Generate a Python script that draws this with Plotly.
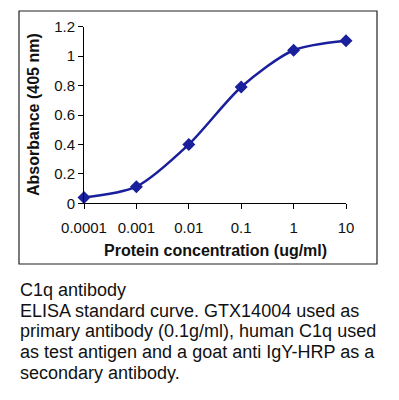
import plotly.graph_objects as go

concentration = [0.0001, 0.001, 0.01, 0.1, 1, 10]
absorbance = [0.04, 0.113, 0.40, 0.79, 1.04, 1.105]
x_tick_vals = [0.0001, 0.001, 0.01, 0.1, 1, 10]
x_tick_text = ["0.0001", "0.001", "0.01", "0.1", "1", "10"]
y_tick_vals = [0, 0.2, 0.4, 0.6, 0.8, 1, 1.2]
y_tick_text = ["0", "0.2", "0.4", "0.6", "0.8", "1", "1.2"]

W, H = 399, 400
OX, OY = 8, 8  # page body margin offset
color = "#1a1f9c"
font = "Liberation Sans, Arial, sans-serif"
txt = "#111111"


def px(x):
    return (x - OX) / W


def py(y):
    return 1 - (y - OY) / H


fig = go.Figure()
fig.add_trace(go.Scatter(
    x=concentration, y=absorbance, mode="lines+markers",
    line=dict(color=color, width=2.5, shape="spline", smoothing=0.8),
    marker=dict(symbol="diamond", size=10, color=color),
    showlegend=False, cliponaxis=False,
))

fig.update_layout(
    template="none",
    width=W, height=H, margin=dict(l=0, r=0, t=0, b=0, pad=0, autoexpand=False),
    paper_bgcolor="white", plot_bgcolor="white",
    font=dict(family=font, color=txt),
    showlegend=False,
    xaxis=dict(
        type="log", range=[-4, 1], domain=[px(84), px(346)],
        tickvals=x_tick_vals, ticktext=x_tick_text,
        showgrid=False, zeroline=False, showline=True, linecolor="black", linewidth=1,
        ticks="outside", ticklen=5, tickcolor="black", automargin=False,
        ticklabelstandoff=6,
        tickfont=dict(size=15, family=font, color=txt),
        anchor="y",
    ),
    yaxis=dict(
        range=[0, 1.2], domain=[py(203.3), py(26.7)],
        tickvals=y_tick_vals, ticktext=y_tick_text,
        showgrid=False, zeroline=False, showline=True, linecolor="black", linewidth=1,
        ticks="outside", ticklen=5, tickcolor="black", automargin=False,
        tickfont=dict(size=15, family=font, color=txt),
        anchor="x",
    ),
)

# Axis titles
fig.add_annotation(text="<b>Absorbance (405 nm)</b>", x=px(33), y=py(115),
                   xref="paper", yref="paper", showarrow=False, textangle=-90,
                   xanchor="center", yanchor="middle",
                   font=dict(size=16, family=font, color=txt))
fig.add_annotation(text="<b>Protein concentration (ug/ml)</b>", x=px(215), y=py(250),
                   xref="paper", yref="paper", showarrow=False,
                   xanchor="center", yanchor="middle",
                   font=dict(size=16, family=font, color=txt))

# Outer frame
fig.add_shape(type="rect", xref="paper", yref="paper",
              x0=px(19), x1=px(377), y0=py(264), y1=py(11),
              line=dict(color="#222222", width=1.2), fillcolor="rgba(0,0,0,0)",
              layer="below")

# Caption
caption = ["C1q antibody",
           "ELISA standard curve. GTX14004 used as",
           "primary antibody (0.1g/ml), human C1q used",
           "as test antigen and a goat anti IgY-HRP as a",
           "secondary antibody."]
for i, line in enumerate(caption):
    fig.add_annotation(text=line, x=px(18), y=py(290 + i * 20.7),
                       xref="paper", yref="paper", showarrow=False,
                       xanchor="left", yanchor="middle",
                       font=dict(size=18, family=font, color=txt))

fig.write_html("out.html")
